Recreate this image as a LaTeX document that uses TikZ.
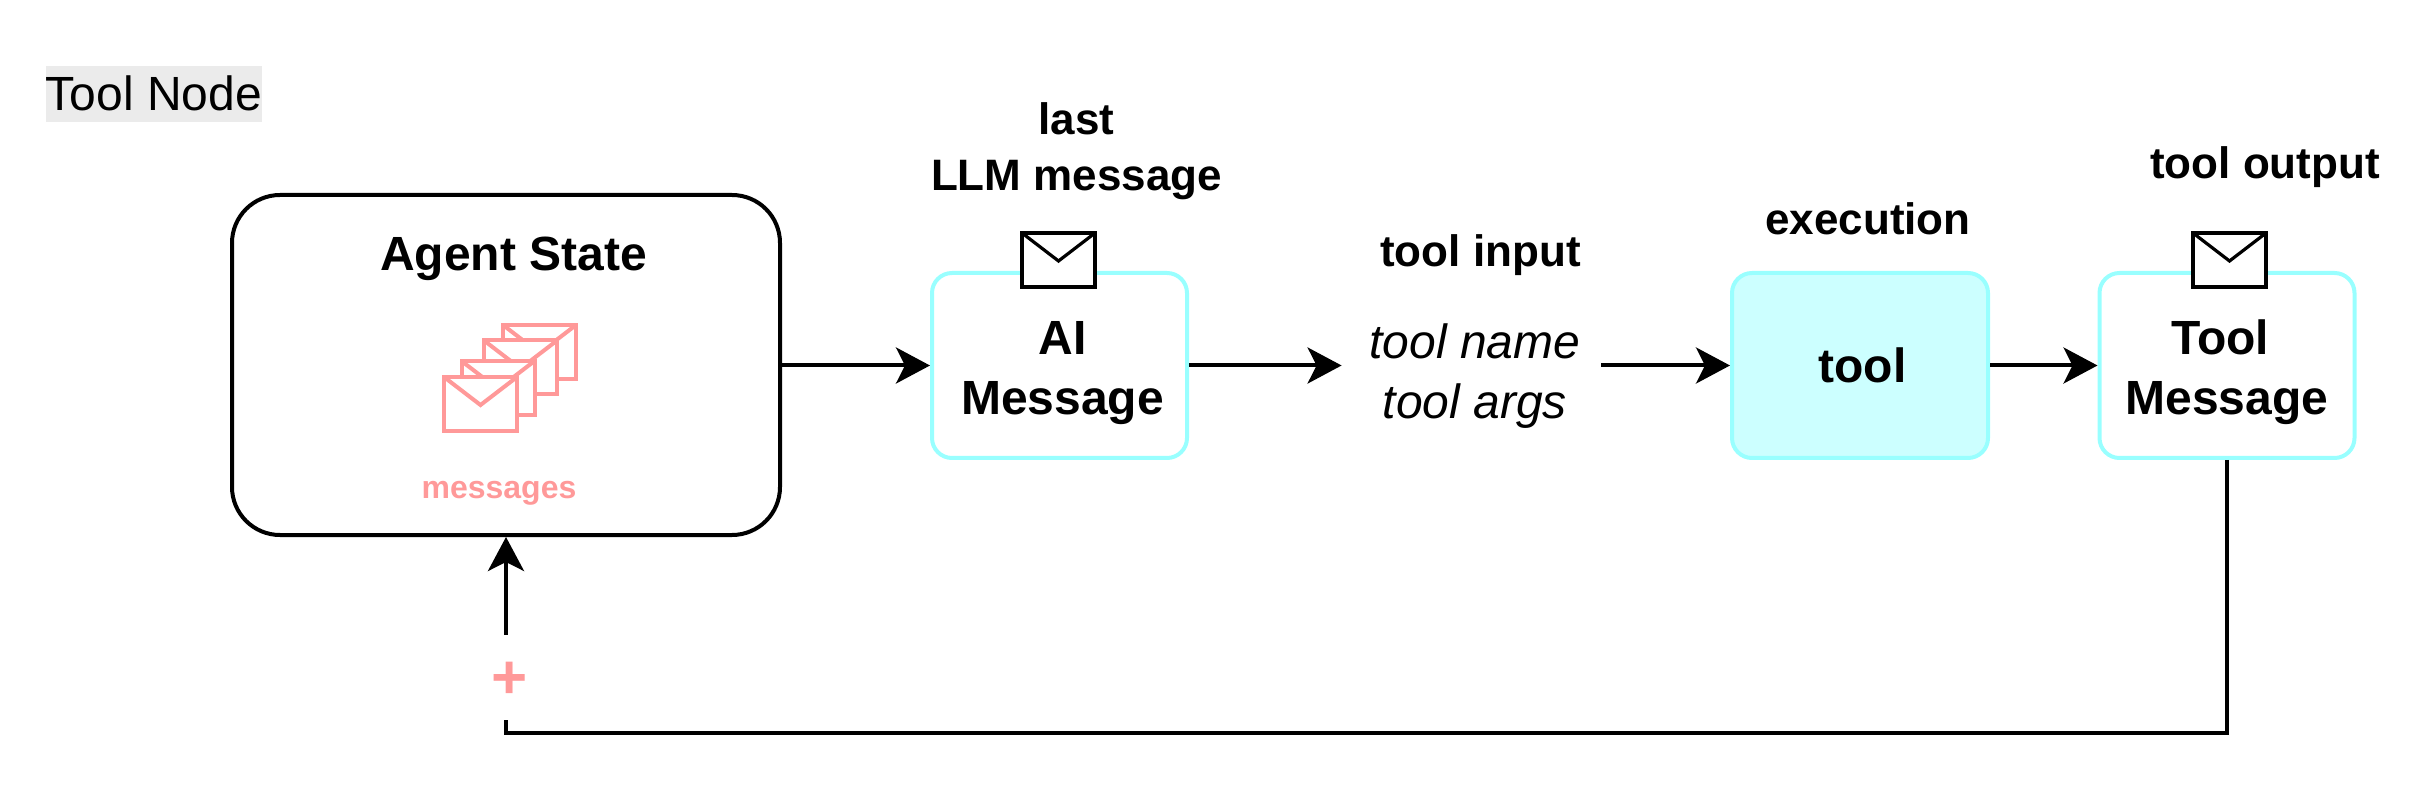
\documentclass[tikz,border=0pt]{standalone}
\usepackage{fontspec}
\setmainfont{Liberation Sans}
\usetikzlibrary{arrows.meta}
\definecolor{msgcyan}{HTML}{99FFFF}
\definecolor{toolfill}{HTML}{CCFFFF}
\definecolor{msgpink}{HTML}{FF9999}
\definecolor{titlegray}{HTML}{EBEBEB}
\tikzset{
  agentbox/.style={draw=black,line width=2pt,rounded corners=24pt,minimum width=274pt,minimum height=170pt},
  msgbox/.style={draw=msgcyan,line width=2pt,rounded corners=10pt,minimum width=127.5pt,minimum height=92.5pt,inner sep=0pt},
  bigbold/.style={font=\fontsize{24}{30}\selectfont\bfseries,align=center,inner sep=0pt},
  smallbold/.style={font=\fontsize{22}{28}\selectfont\bfseries,align=center,inner sep=0pt},
  link/.style={line width=2pt,-{Stealth[length=17pt,width=18pt,inset=4.5pt]}},
  pics/envelope/.style 2 args={code={
    \draw[line width=2pt,draw=#1,fill=white] (-36.5,-27) rectangle (36.5,27);
    \draw[line width=#2,draw=#1] (-36.5,-27)--(0,1)--(36.5,-27);
  }}
}
\begin{document}
\begin{tikzpicture}[x=0.5pt,y=-0.5pt]
  \useasboundingbox (0,0) rectangle (2420,812);
  \node[fill=titlegray,minimum width=108pt,minimum height=28pt,inner sep=0pt,font=\fontsize{24}{30}\selectfont] (title) at (154,94) {\raisebox{0.8pt}{Tool Node}};
  \node[agentbox] (agent) at (506,365) {};
  \node[bigbold,anchor=base] (agenttitle) at (513.5,270.5) {Agent State};
  \foreach \ex/\ey in {539.5/352,520.5/367.5,498/388,480.5/404}
    \pic at (\ex,\ey) {envelope={msgpink}{2pt}};
  \node[anchor=base,inner sep=0pt,text=msgpink,font=\fontsize{16}{20}\selectfont\bfseries] (messages) at (499,498) {messages};
  \node[msgbox] (aimsg) at (1059.5,365.5) {};
  \node[bigbold,anchor=base] (aitext) at (1062.5,414.5) {AI\\Message};
  \pic at (1058.5,260) {envelope={black}{1.6pt}};
  \node[smallbold,anchor=base] (lastllm) at (1076.5,190.5) {last\\LLM message};
  \node[smallbold,anchor=base] (toolinput) at (1480.5,266.5) {tool input};
  \node[anchor=base,align=center,inner sep=0pt,minimum width=126pt,font=\fontsize{24}{30}\selectfont\itshape] (toolcall) at (1475,418.5) {tool name\\tool args};
  \node[msgbox,fill=toolfill,bigbold,minimum width=128pt,minimum height=92.5pt] (tool) at (1860,365.5) {\raisebox{-0.7pt}{\kern2.5pt tool}};
  \node[smallbold,anchor=base] (execution) at (1868,234.5) {execution};
  \node[msgbox] (toolmsg) at (2227,365.5) {};
  \node[bigbold,anchor=base] (tooltext) at (2227,414.5) {Tool\hspace*{6.7pt}\\Message};
  \pic at (2229.5,260) {envelope={black}{1.6pt}};
  \node[smallbold,anchor=base] (tooloutput) at (2265,178.5) {tool output};
  \node[inner sep=0pt,minimum height=42.5pt,text=msgpink,font=\fontsize{31}{36}\selectfont\bfseries] (plus) at (506,677.5) {\kern4pt\raisebox{-10.5pt}[0pt][0pt]{+}};
  \draw[link] (agent.east|-aimsg.west)--(aimsg.west);
  \draw[link] (aimsg.east)--([xshift=-3.5pt]toolcall.west|-aimsg.east);
  \draw[link] (toolcall.east|-tool.west)--(tool.west);
  \draw[link] (tool.east)--(toolmsg.west);
  \draw[line width=2pt] (toolmsg.south)|-(506,733)--(plus.south);
  \draw[link] (plus.north)--(agent.south);
\end{tikzpicture}
\end{document}
